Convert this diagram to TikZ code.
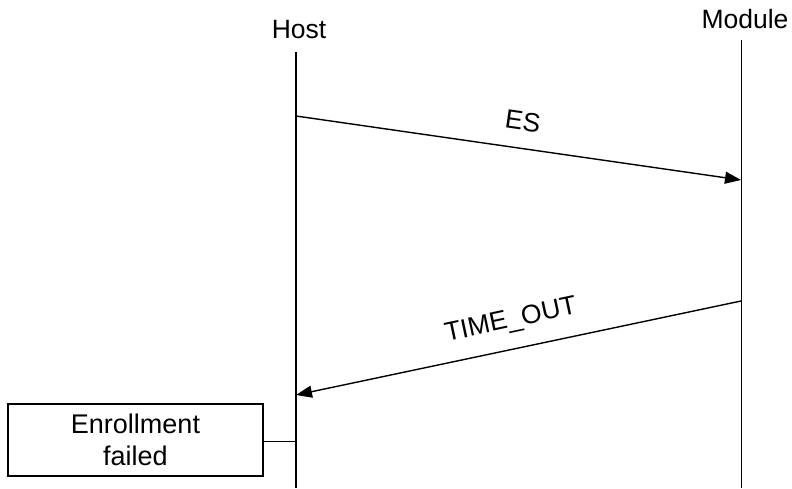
\documentclass[tikz,border=0pt]{standalone}
\usepackage{fontspec}
\setmainfont{Liberation Sans}
\usetikzlibrary{arrows.meta}
\begin{document}
\begin{tikzpicture}[x=1pt,y=-1pt,
  lbl/.style={font=\fontsize{26.5}{30}\selectfont, inner sep=0pt},
  life/.style={line width=1.4pt, draw=black},
  msg/.style={line width=1.4pt, -{Triangle[length=16pt,width=12pt]}},
  boxnode/.style={draw, line width=1.1pt, minimum width=255pt, minimum height=72pt, inner sep=0pt, align=center, font=\fontsize{27}{31.5}\selectfont}]
\useasboundingbox (0,0) rectangle (792,488);
% participants
\node[lbl, anchor=base] (host) at (299,38) {Host};
\node[lbl, anchor=base] (module) at (745,28) {Module};
\coordinate (htop) at (296,52);
\coordinate (hbot) at (296,488);
\coordinate (mtop) at (741.5,40);
\coordinate (mbot) at (741.5,488);
\draw[life] (htop) -- (hbot);
\draw[life] (mtop) -- (mbot);
% messages
\coordinate (es1) at (296,116);
\coordinate (es2) at (741,180);
\draw[msg] (es1) -- (es2);
\node[lbl, rotate=-8.2] (eslbl) at (523,121) {ES};
\coordinate (to1) at (741,301);
\coordinate (to2) at (296,395);
\draw[msg] (to1) -- (to2);
\node[lbl, rotate=12] (tolbl) at (511,321) {TIME\_OUT};
% result box
\node[boxnode] (fail) at (135.5,440) {Enrollment\\failed};
\coordinate (hfail) at (296,441);
\draw[line width=1pt] (fail.east |- hfail) -- (hfail);
\end{tikzpicture}
\end{document}
